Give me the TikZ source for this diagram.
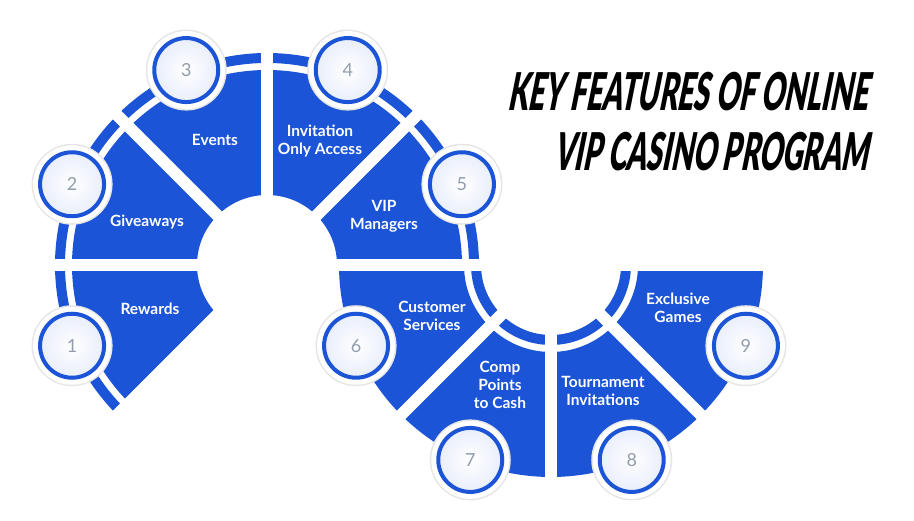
\documentclass[tikz,border=0pt]{standalone}
\usepackage{fontspec}
\setmainfont{Lato}
\newfontfamily\titlefont{Lato Black}[FakeStretch=0.545,FakeSlant=0.2]
\usetikzlibrary{calc}
\definecolor{vipblue}{RGB}{27,84,214}
\definecolor{numgray}{RGB}{145,157,174}

\begin{document}
\begin{tikzpicture}[x=1pt,y=1pt,
    gapline/.style={white,line width=12pt},
    featlabel/.style={text=white,align=center,font=\bfseries\fontsize{15.5}{18}\selectfont},
    numdisc/.style={circle,minimum size=64pt,inner sep=0pt,draw=vipblue,line width=4pt,
        inner color=white,outer color=vipblue!10,text=numgray,font=\fontsize{18}{18}\selectfont,
        preaction={draw=black!10,line width=17pt},preaction={draw=white,line width=14pt}}]
        \useasboundingbox (0,0) rectangle (914,521);
        % A ket gyuru kozeppontja
        \coordinate (U) at (267,256);
        \coordinate (L) at (551,256);
        % Felso gyuru: fo resz es kulso sav
        \fill[vipblue] ($(U)+(0:70)$) arc (0:225:70) -- ($(U)+(225:195)$) arc (225:0:195) -- cycle;
        \fill[vipblue] ($(U)+(0:202)$) arc (0:225:202) -- ($(U)+(225:212)$) arc (225:0:212) -- cycle;
        % Also gyuru: belso sav es fo resz
        \fill[vipblue] ($(L)+(180:70)$) arc (180:360:70) -- ($(L)+(0:80)$) arc (360:180:80) -- cycle;
        \fill[vipblue] ($(L)+(180:87)$) arc (180:360:87) -- ($(L)+(0:212)$) arc (360:180:212) -- cycle;
        % Feher resek a szeletek kozott
        \draw[gapline] (U) -- ++(0:222);
        \draw[gapline] (U) -- ++(45:222);
        \draw[gapline] (U) -- ++(90:222);
        \draw[gapline] (U) -- ++(135:222);
        \draw[gapline] (U) -- ++(180:222);
        \draw[gapline] (U) -- ++(225:222);
        \draw[gapline] (L) -- ++(180:222);
        \draw[gapline] (L) -- ++(225:222);
        \draw[gapline] (L) -- ++(270:222);
        \draw[gapline] (L) -- ++(315:222);
        \draw[gapline] (L) -- ++(360:222);
        % Szovegek a szeleteken
        \node[featlabel] (rewards) at (150,212) {Rewards};
        \node[featlabel] (giveaways) at (147,299) {Giveaways};
        \node[featlabel] (events) at (215,381) {Events};
        \node[featlabel] (invitation) at (320,380) {Invitation\\Only Access};
        \node[featlabel] (managers) at (384,305) {VIP\\Managers};
        \node[featlabel] (service) at (432,205) {Customer\\Services};
        \node[featlabel] (comp) at (500,136) {Comp\\Points\\to Cash};
        \node[featlabel] (tournament) at (603,130) {Tournament\\Invitations};
        \node[featlabel] (exclusive) at (678,213) {Exclusive\\Games};
        % Szamozott korok
        \node[numdisc] (n1) at ($(U)+(202.5:211)$) {1};
        \node[numdisc] (n2) at ($(U)+(157.5:211)$) {2};
        \node[numdisc] (n3) at ($(U)+(112.5:211)$) {3};
        \node[numdisc] (n4) at ($(U)+(67.5:211)$) {4};
        \node[numdisc] (n5) at ($(U)+(22.5:211)$) {5};
        \node[numdisc] (n6) at ($(L)+(202.5:211)$) {6};
        \node[numdisc] (n7) at ($(L)+(247.5:211)$) {7};
        \node[numdisc] (n8) at ($(L)+(292.5:211)$) {8};
        \node[numdisc] (n9) at ($(L)+(337.5:211)$) {9};
        % Cim
        \node[anchor=north east,align=right,inner sep=0pt,
            font=\titlefont\fontsize{52}{60}\selectfont] (title) at (868,449)
            {KEY FEATURES OF ONLINE\\VIP CASINO PROGRAM};
    \end{tikzpicture}
\end{document}
